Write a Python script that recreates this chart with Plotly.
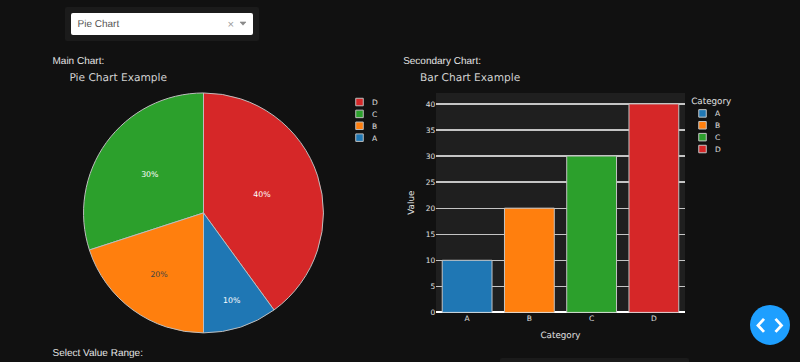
import plotly.graph_objects as go

categories = ["A", "B", "C", "D"]
values = [10, 20, 30, 40]
colors = ["#1f77b4", "#ff7f0e", "#2ca02c", "#d62728"]
y_ticks = [0, 5, 10, 15, 20, 25, 30, 35, 40]

W, H = 800, 362
SCALE = 1.6
TXT = "#e0e0e0"
SANS = "Liberation Sans, Arial, sans-serif"
VERD = "DejaVu Sans, Verdana, sans-serif"

def px(x):
    return x / W

def py(y):
    return 1 - y / H

fig = go.Figure()

fig.add_trace(go.Pie(
    labels=categories, values=values, sort=True, direction="counterclockwise", rotation=0,
    marker=dict(colors=colors, line=dict(color="#bdbdbd", width=1.6)),
    textinfo="percent", textposition="inside", insidetextorientation="horizontal",
    textfont=dict(size=12.5, family=VERD),
    domain=dict(x=[px(83.5), px(323.5)], y=[py(333), py(93)]),
    legend="legend", showlegend=True,
))

for c, v, col in zip(categories, values, colors):
    fig.add_trace(go.Bar(
        x=[c], y=[v], name=c, width=0.8, xaxis="x", yaxis="y",
        marker=dict(color=col, line=dict(color="#c4c4c4", width=1.6)),
        legend="legend2",
    ))

fig.update_layout(
    width=round(W * SCALE), height=round(H * SCALE),
    margin=dict(l=0, r=0, t=0, b=0),
    paper_bgcolor="#111111", plot_bgcolor="#1f1f1f",
    font=dict(family=VERD, size=12, color=TXT),
    barmode="group", bargap=0.2,
    xaxis=dict(domain=[px(436), px(685)], anchor="y", type="category", automargin=False,
               categoryorder="array", categoryarray=categories, range=[-0.5, 3.5],
               showgrid=False, showline=False, ticks="", zeroline=False,
               title=dict(text="Category", font=dict(size=14)),
               tickfont=dict(size=12)),
    yaxis=dict(domain=[py(312.5), py(93)], anchor="x", range=[0, 42.1], automargin=False,
               tickmode="array", tickvals=y_ticks,
               showgrid=True, gridcolor="#c4c4c4", gridwidth=1.6,
               zeroline=True, zerolinecolor="#ffffff", zerolinewidth=3,
               ticks="", showline=False,
               title=dict(text="Value", font=dict(size=14)),
               tickfont=dict(size=12)),
    legend=dict(x=px(347), y=py(93), xanchor="left", yanchor="top", traceorder="normal",
                bgcolor="rgba(0,0,0,0)", font=dict(size=12, color=TXT)),
    legend2=dict(x=px(690), y=py(93), xanchor="left", yanchor="top", traceorder="normal",
                 title=dict(text="Category", font=dict(size=14, color=TXT)),
                 bgcolor="rgba(0,0,0,0)", font=dict(size=12, color=TXT)),
    showlegend=True,
)

def rrect(x0, y0, x1, y1, r, fill):
    rx, ry = r / W, r / H
    a, b, c, d = px(x0), px(x1), py(y0), py(y1)
    path = (f"M {a+rx} {c} L {b-rx} {c} Q {b} {c} {b} {c-ry} L {b} {d+ry} Q {b} {d} {b-rx} {d} "
            f"L {a+rx} {d} Q {a} {d} {a} {d+ry} L {a} {c-ry} Q {a} {c} {a+rx} {c} Z")
    return dict(type="path", xref="paper", yref="paper", path=path, fillcolor=fill,
                line=dict(width=0), layer="above")

def seg(points, color, width, closed=False):
    path = "M " + " L ".join(f"{px(x)} {py(y)}" for x, y in points) + (" Z" if closed else "")
    s = dict(type="path", xref="paper", yref="paper", path=path,
             line=dict(color=color, width=width), layer="above")
    if closed:
        s["fillcolor"] = color
    return s

shapes = [
    rrect(65, 7, 259, 41, 2, "#1b1b1b"),
    rrect(71, 13, 253, 35, 2, "#ffffff"),
    rrect(500, 358, 689, 372, 2, "#1b1b1b"),
    dict(type="circle", xref="paper", yref="paper", x0=px(750), x1=px(790), y0=py(345), y1=py(305),
         fillcolor="#1e9fff", line=dict(width=0), layer="above"),
    seg([(764, 319), (758, 325.5), (764, 332)], "#ffffff", 4.5),
    seg([(775.5, 319), (781.5, 325.5), (775.5, 332)], "#ffffff", 4.5),
    seg([(240, 22), (246, 22), (243, 25.2)], "#8a8a8a", 1, closed=True),
]
fig.update_layout(shapes=shapes)

def note(x, y, text, size, color, family=SANS):
    fig.add_annotation(xref="paper", yref="paper", x=px(x), y=py(y), text=text, showarrow=False,
                       xanchor="left", yanchor="middle", align="left",
                       font=dict(size=size, color=color, family=family))

note(76, 23.5, "Pie Chart", 16, "#555555")
note(226, 23.5, "×", 18, "#9a9a9a")
note(51, 60.5, "Main Chart:", 16, "#e4e4e4")
note(402, 60.5, "Secondary Chart:", 16, "#e4e4e4")
note(51, 352.5, "Select Value Range:", 16, "#e4e4e4")
note(68, 77, "Pie Chart Example", 17, "#d0d0d0", VERD)
note(419, 77, "Bar Chart Example", 17, "#d0d0d0", VERD)

post = ("document.documentElement.style.overflow='hidden';"
        "document.documentElement.style.background='#111111';"
        "document.body.style.margin='0';"
        "document.body.style.overflow='hidden';"
        "var g=document.getElementById('{plot_id}');"
        "g.style.textRendering='geometricPrecision';"
        f"g.style.transformOrigin='0 0';g.style.transform='scale({1/SCALE})';"
        "g.style.opacity='0.999';")

fig.write_html("out.html", config=dict(displayModeBar=False, responsive=False), post_script=post)
